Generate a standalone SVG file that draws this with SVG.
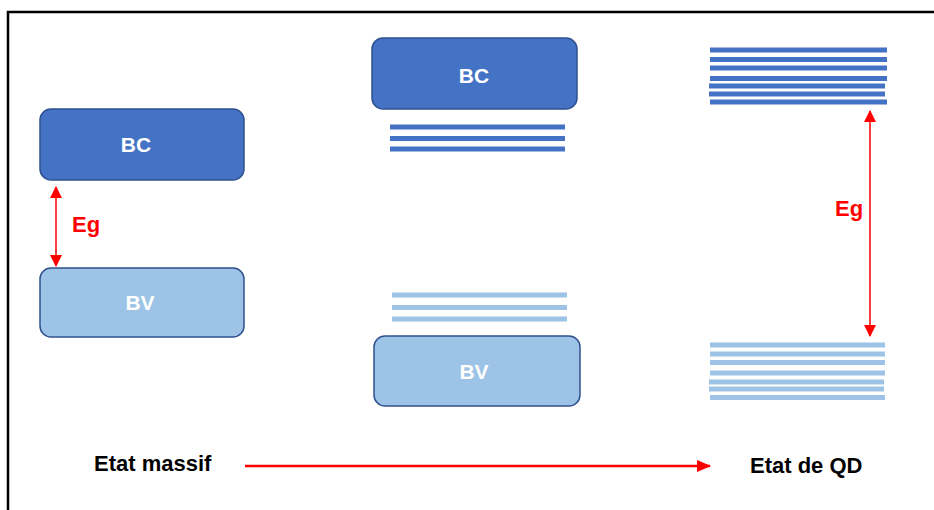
<svg xmlns="http://www.w3.org/2000/svg" width="934" height="510" viewBox="0 0 934 510">
<defs>
<style>
.bc{fill:#4472C4;stroke:#2F528F;stroke-width:1.5}
.bv{fill:#9DC3E6;stroke:#2F528F;stroke-width:1.5}
.lbl{font-family:"Liberation Sans",Arial,sans-serif;font-weight:bold;font-size:21px;fill:#FFFFFF;text-anchor:middle}
.eg{font-family:"Liberation Sans",Arial,sans-serif;font-weight:bold;font-size:22px;fill:#FF0000}
.cap{font-family:"Liberation Sans",Arial,sans-serif;font-weight:bold;font-size:22px;fill:#000000}
.dk{fill:#4472C4}
.lt{fill:#9DC3E6}
.arr{stroke:#FF0000;stroke-width:1.5;fill:none}
</style>
<marker id="ah" viewBox="0 0 12 12" refX="11" refY="6" markerWidth="12" markerHeight="12" markerUnits="userSpaceOnUse" orient="auto-start-reverse">
<path d="M0,0 L12,6 L0,12 Z" fill="#FF0000"/>
</marker>
<marker id="ahb" viewBox="0 0 14 12" refX="13" refY="6" markerWidth="14" markerHeight="12" markerUnits="userSpaceOnUse" orient="auto">
<path d="M0,0 L14,6 L0,12 Z" fill="#FF0000"/>
</marker>
</defs>
<rect x="0" y="0" width="934" height="510" fill="#FFFFFF"/>
<path d="M8,515 L8,12 L940,12" fill="none" stroke="#000000" stroke-width="2.5"/>

<g id="bulk-bc"><rect class="bc" x="40" y="109" width="204" height="71" rx="11"/><text class="lbl" x="136" y="152">BC</text></g>
<g id="bulk-bv"><rect class="bv" x="40" y="268" width="204" height="69" rx="11"/><text class="lbl" x="140" y="310">BV</text></g>

<g id="mid-bc"><rect class="bc" x="372" y="38" width="205" height="71" rx="11"/><text class="lbl" x="474" y="83">BC</text>
<rect class="dk" x="390" y="124.5" width="175" height="5"/><rect class="dk" x="390" y="136" width="175" height="5"/><rect class="dk" x="390" y="146.5" width="175" height="5"/></g>
<g id="mid-bv"><rect class="lt" x="392" y="292.5" width="175" height="5"/><rect class="lt" x="392" y="305" width="175" height="5"/><rect class="lt" x="392" y="316.5" width="175" height="5"/>
<rect class="bv" x="374" y="336" width="206" height="70" rx="11"/><text class="lbl" x="474" y="379">BV</text></g>

<g id="qd-bc"><rect class="dk" x="710" y="47.5" width="177" height="5"/><rect class="dk" x="710" y="57" width="177" height="5"/><rect class="dk" x="710" y="65.5" width="177" height="5"/><rect class="dk" x="710" y="76" width="177" height="5"/><rect class="dk" x="709" y="83.5" width="176" height="5"/><rect class="dk" x="709" y="91.5" width="176" height="5"/><rect class="dk" x="710" y="99.5" width="177" height="5"/></g>
<g id="qd-bv"><rect class="lt" x="710" y="342.5" width="175" height="5"/><rect class="lt" x="710" y="351.5" width="175" height="5"/><rect class="lt" x="710" y="360" width="175" height="5"/><rect class="lt" x="710" y="370.5" width="175" height="5"/><rect class="lt" x="709" y="379.5" width="175" height="5"/><rect class="lt" x="709" y="386.5" width="175" height="5"/><rect class="lt" x="710" y="395" width="175" height="5"/></g>

<g id="connectors">
<line class="arr" x1="56" y1="187" x2="56" y2="266" marker-start="url(#ah)" marker-end="url(#ah)"/>
<line class="arr" x1="870" y1="111" x2="870" y2="336" marker-start="url(#ah)" marker-end="url(#ah)"/>
<line x1="245" y1="466" x2="710" y2="466" stroke="#FF0000" stroke-width="2.5" marker-end="url(#ahb)"/>
</g>

<g id="labels">
<text class="eg" x="72" y="232">Eg</text>
<text class="eg" x="835" y="216">Eg</text>
<text class="cap" x="94" y="471">Etat massif</text>
<text class="cap" x="750" y="473">Etat de QD</text>
</g>
</svg>
